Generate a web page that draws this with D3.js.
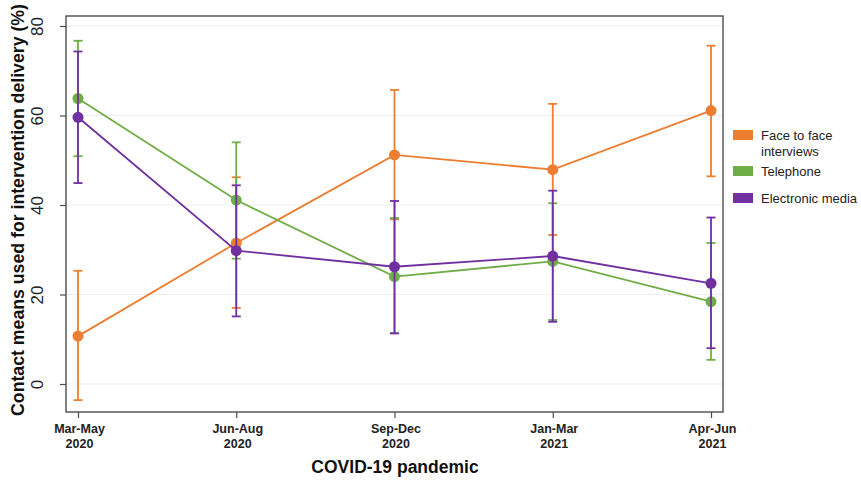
<!DOCTYPE html>
<html>
<head>
<meta charset="utf-8">
<script src="https://cdn.jsdelivr.net/npm/d3@7"></script>
<style>
  body { margin: 0; background: #fff; }
  svg { font-family: "Liberation Sans", Arial, sans-serif; }
</style>
</head>
<body>
<svg id="chart" width="861" height="482"></svg>
<script>
// periods on the x axis (two-line labels)
const periods = ['Mar-May|2020', 'Jun-Aug|2020', 'Sep-Dec|2020', 'Jan-Mar|2021', 'Apr-Jun|2021'];
const yTicks = [0, 20, 40, 60, 80];

// means with lower / upper error limits
const faceMean = [10.7, 31.5, 51.2, 47.9, 61.1];
const faceLow  = [-3.6, 17.0, 36.8, 33.3, 46.4];
const faceHigh = [25.3, 46.2, 65.7, 62.6, 75.6];

const phoneMean = [63.8, 41.1, 24.0, 27.4, 18.4];
const phoneLow  = [50.9, 28.0, 11.4, 14.3, 5.4];
const phoneHigh = [76.7, 54.0, 37.1, 40.4, 31.5];

const elecMean = [59.6, 29.8, 26.2, 28.6, 22.5];
const elecLow  = [44.9, 15.1, 11.3, 13.9, 8.0];
const elecHigh = [74.3, 44.4, 40.9, 43.2, 37.2];

const seriesNames = ['Face to face interviews', 'Telephone', 'Electronic media'];
const colors = ['#ED7D31', '#70AD47', '#7030A0'];

const series = [
  { name: seriesNames[0], color: colors[0], mean: faceMean, low: faceLow, high: faceHigh },
  { name: seriesNames[1], color: colors[1], mean: phoneMean, low: phoneLow, high: phoneHigh },
  { name: seriesNames[2], color: colors[2], mean: elecMean, low: elecLow, high: elecHigh },
];

const svg = d3.select('#chart');
const frame = { left: 66, right: 723, top: 16, bottom: 412 };

const x = d3.scalePoint().domain(periods).range([78, 711]);
const y = d3.scaleLinear().domain([0, 80]).range([384, 26]);

// gridlines
svg.append('g')
  .selectAll('line')
  .data(yTicks)
  .join('line')
  .attr('x1', frame.left).attr('x2', frame.right)
  .attr('y1', (d) => y(d)).attr('y2', (d) => y(d))
  .attr('stroke', '#efefef')
  .attr('stroke-width', 1.2);

// frame
svg.append('rect')
  .attr('x', frame.left).attr('y', frame.top)
  .attr('width', frame.right - frame.left)
  .attr('height', frame.bottom - frame.top)
  .attr('fill', 'none')
  .attr('stroke', '#4d4d4d')
  .attr('stroke-width', 1.4);

// y axis
const yAxis = svg.append('g')
  .attr('transform', `translate(${frame.left},0)`)
  .call(d3.axisLeft(y).tickValues(yTicks).tickSize(6).tickSizeOuter(0));
yAxis.select('.domain').remove();
yAxis.selectAll('.tick line').attr('stroke', '#4d4d4d').attr('stroke-width', 1.2);
yAxis.selectAll('.tick text')
  .attr('x', 0).attr('y', 0).attr('dy', null)
  .attr('transform', 'translate(-23,0) rotate(-90)')
  .attr('text-anchor', 'middle')
  .attr('font-size', 17)
  .attr('fill', '#222');

// x axis
const xAxis = svg.append('g')
  .attr('transform', `translate(0,${frame.bottom})`)
  .call(d3.axisBottom(x).tickSize(6).tickSizeOuter(0).tickFormat(''));
xAxis.select('.domain').remove();
xAxis.selectAll('.tick line').attr('stroke', '#4d4d4d').attr('stroke-width', 1.2);
xAxis.selectAll('.tick').each(function (d) {
  const parts = d.split('|');
  const t = d3.select(this).append('text')
    .attr('text-anchor', 'middle')
    .attr('font-size', 12.5)
    .attr('font-weight', 'bold')
    .attr('fill', '#222');
  t.append('tspan').attr('x', 1).attr('y', 21).text(parts[0]);
  t.append('tspan').attr('x', 1).attr('y', 36).text(parts[1]);
});

// titles
svg.append('text')
  .attr('transform', 'translate(24,210) rotate(-90)')
  .attr('text-anchor', 'middle')
  .attr('font-size', 17.7)
  .attr('font-weight', 'bold')
  .attr('fill', '#111')
  .text('Contact means used for intervention delivery (%)');

svg.append('text')
  .attr('x', 395).attr('y', 473)
  .attr('text-anchor', 'middle')
  .attr('font-size', 17.5)
  .attr('font-weight', 'bold')
  .attr('fill', '#111')
  .text('COVID-19 pandemic');

// series
const line = d3.line()
  .x((d) => x(d.p))
  .y((d) => y(d.v));

series.forEach((s) => {
  const pts = periods.map((p, i) => ({ p, v: s.mean[i], lo: s.low[i], hi: s.high[i] }));
  const g = svg.append('g');

  g.append('path')
    .datum(pts)
    .attr('d', line)
    .attr('fill', 'none')
    .attr('stroke', s.color)
    .attr('stroke-width', 1.8);

  const bars = g.selectAll('.bar').data(pts).join('g');
  bars.append('line')
    .attr('x1', (d) => x(d.p)).attr('x2', (d) => x(d.p))
    .attr('y1', (d) => y(d.lo)).attr('y2', (d) => y(d.hi))
    .attr('stroke', s.color).attr('stroke-width', 1.8);
  ['lo', 'hi'].forEach((k) => {
    bars.append('line')
      .attr('x1', (d) => x(d.p) - 4.5).attr('x2', (d) => x(d.p) + 4.5)
      .attr('y1', (d) => y(d[k])).attr('y2', (d) => y(d[k]))
      .attr('stroke', s.color).attr('stroke-width', 1.8);
  });

  g.selectAll('circle').data(pts).join('circle')
    .attr('cx', (d) => x(d.p))
    .attr('cy', (d) => y(d.v))
    .attr('r', 5.5)
    .attr('fill', s.color);
});

// legend
const legendRows = [
  { lines: ['Face to face', 'interviews'], y: 136 },
  { lines: ['Telephone'], y: 172 },
  { lines: ['Electronic media'], y: 199 },
];
const legend = svg.append('g');
legendRows.forEach((r, i) => {
  legend.append('rect')
    .attr('x', 733).attr('y', r.y - 6)
    .attr('width', 20).attr('height', 10)
    .attr('fill', colors[i]);
  const t = legend.append('text')
    .attr('font-size', 13)
    .attr('fill', '#222');
  r.lines.forEach((ln, j) => {
    t.append('tspan').attr('x', 761).attr('y', r.y + 4 + j * 16).text(ln);
  });
});
</script>
</body>
</html>
